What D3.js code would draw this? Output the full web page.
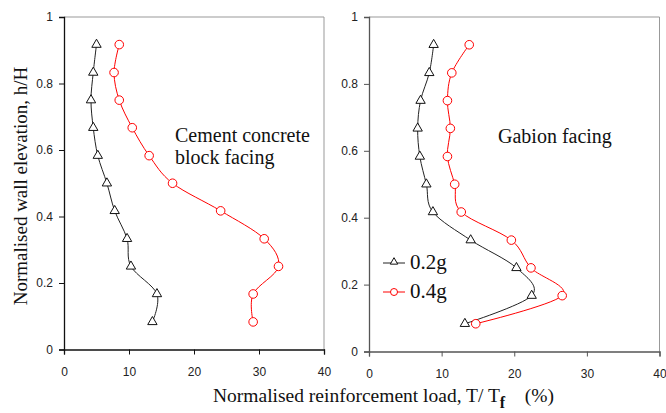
<!DOCTYPE html>
<html>
<head>
<meta charset="utf-8">
<script src="https://d3js.org/d3.v7.min.js"></script>
<style>
  body { margin: 0; background: #fff; }
  .tick text { font-family: "Liberation Sans", Arial, sans-serif; font-size: 12px; fill: #222; }
  .title { font-family: "Liberation Serif", "Times New Roman", serif; fill: #111; }
</style>
</head>
<body>
<script>
// layer heights h/H (bottom to top)
var heights = [0.083, 0.167, 0.25, 0.333, 0.417, 0.5, 0.583, 0.667, 0.75, 0.833, 0.917];

// cement concrete block facing
var blockLow  = [13.6, 14.3, 10.3, 9.7, 7.8, 6.6, 5.2, 4.5, 4.15, 4.5, 5.0];   // 0.2g
var blockHigh = [29.1, 29.1, 33.0, 30.8, 24.1, 16.7, 13.1, 10.5, 8.5, 7.7, 8.5]; // 0.4g

// gabion facing
var gabionLow  = [13.2, 22.4, 20.3, 14.0, 8.8, 7.9, 7.0, 6.7, 7.1, 8.3, 8.9];
var gabionHigh = [14.7, 26.6, 22.3, 19.6, 12.7, 11.8, 10.8, 11.2, 10.8, 11.4, 13.8];

var xTicks = [0, 10, 20, 30, 40];
var yTicks = [0, 0.2, 0.4, 0.6, 0.8, 1];
var seriesNames = ["0.2g", "0.4g"];

var W = 666, H = 413;
var svg = d3.select("body").append("svg").attr("width", W).attr("height", H);

function panel(opt) {
  var x = d3.scaleLinear().domain([0, 40]).range([opt.x0, opt.x1]);
  var y = d3.scaleLinear().domain([0, 1]).range([opt.y0, opt.y1]);

  // frame (top + right)
  svg.append("path")
    .attr("d", "M" + x(0) + "," + y(1) + "H" + x(40) + "V" + y(0))
    .attr("fill", "none").attr("stroke", "#999").attr("stroke-width", 1);

  var gx = svg.append("g").attr("transform", "translate(0," + y(0) + ")")
    .call(d3.axisBottom(x).tickValues(xTicks).tickSize(5).tickPadding(13).tickFormat(d3.format("d")));
  var gy = svg.append("g").attr("transform", "translate(" + x(0) + ",0)")
    .call(d3.axisLeft(y).tickValues(yTicks).tickSize(5).tickPadding(6).tickFormat(function(d) { return d; }));
  [gx, gy].forEach(function(g) {
    g.select(".domain").attr("stroke", opt.axisColor).attr("stroke-width", 1.3);
    g.selectAll(".tick line").attr("stroke", opt.axisColor);
  });

  var line = d3.line()
    .x(function(d) { return x(d[0]); })
    .y(function(d) { return y(d[1]); })
    .curve(d3.curveCatmullRom.alpha(0));

  var low = opt.low.map(function(v, i) { return [v, heights[i]]; });
  var high = opt.high.map(function(v, i) { return [v, heights[i]]; });

  svg.append("path").datum(low).attr("d", line)
    .attr("fill", "none").attr("stroke", "#222").attr("stroke-width", 1);
  svg.append("path").datum(high).attr("d", line)
    .attr("fill", "none").attr("stroke", "#ff0000").attr("stroke-width", 1);

  var tri = d3.symbol().type(d3.symbolTriangle).size(38);
  svg.selectAll(null).data(low).enter().append("path")
    .attr("d", tri)
    .attr("transform", function(d) { return "translate(" + x(d[0]) + "," + y(d[1]) + ")"; })
    .attr("fill", "#fff").attr("stroke", "#111").attr("stroke-width", 1);
  svg.selectAll(null).data(high).enter().append("circle")
    .attr("cx", function(d) { return x(d[0]); })
    .attr("cy", function(d) { return y(d[1]); })
    .attr("r", 4.3)
    .attr("fill", "#fff").attr("stroke", "#ff0000").attr("stroke-width", 1);
}

panel({ x0: 64, x1: 324, y0: 349.5, y1: 17, low: blockLow, high: blockHigh, axisColor: "#111" });
panel({ x0: 369, x1: 659.5, y0: 351.5, y1: 17, low: gabionLow, high: gabionHigh, axisColor: "#555" });

// panel captions
var cap = svg.append("text").attr("class", "title").attr("font-size", 20);
cap.append("tspan").attr("x", 175).attr("y", 142).text("Cement concrete");
cap.append("tspan").attr("x", 175).attr("y", 164).text("block facing");
svg.append("text").attr("class", "title").attr("font-size", 20)
  .attr("x", 498).attr("y", 143).text("Gabion facing");

// legend
var legY = [263, 292];
legY.forEach(function(ly, i) {
  var col = i === 0 ? "#222" : "#ff0000";
  svg.append("line").attr("x1", 383).attr("x2", 405).attr("y1", ly).attr("y2", ly)
    .attr("stroke", col).attr("stroke-width", 1);
  if (i === 0) {
    svg.append("path").attr("d", d3.symbol().type(d3.symbolTriangle).size(24))
      .attr("transform", "translate(394," + (ly - 1) + ")")
      .attr("fill", "#fff").attr("stroke", "#111");
  } else {
    svg.append("circle").attr("cx", 394).attr("cy", ly).attr("r", 3.5)
      .attr("fill", "#fff").attr("stroke", col);
  }
  svg.append("text").attr("class", "title").attr("font-size", 21)
    .attr("x", 410).attr("y", ly + 6).text(seriesNames[i]);
});

// axis titles
svg.append("text").attr("class", "title").attr("font-size", 19)
  .attr("transform", "translate(27,186) rotate(-90)")
  .attr("text-anchor", "middle")
  .text("Normalised wall elevation, h/H");

var xt = svg.append("text").attr("class", "title").attr("font-size", 19.5)
  .attr("x", 213).attr("y", 402);
xt.append("tspan").text("Normalised reinforcement load, T/ T");
xt.append("tspan").attr("dy", 6).attr("font-size", 16).attr("font-weight", "bold").text("f");
xt.append("tspan").attr("dy", -6).text("\u00a0\u00a0\u00a0\u00a0(%)");
</script>
</body>
</html>
